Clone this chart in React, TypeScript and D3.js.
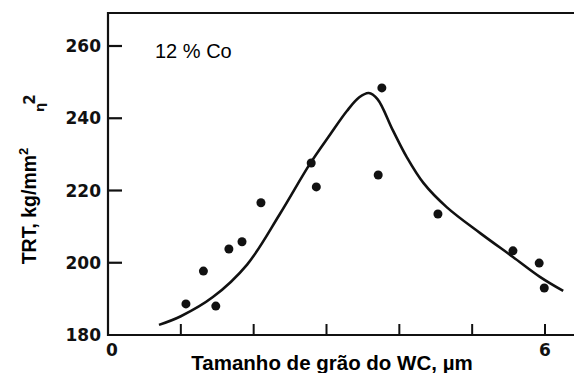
import { useEffect, useRef } from "react";
import * as d3 from "d3";

const width = 574;
const height = 373;

// measured points (grain size µm, TRT kg/mm²)
const pointX = [1.07, 1.31, 1.48, 1.66, 1.84, 2.1, 2.79, 2.86, 3.71, 3.76, 4.53, 5.56, 5.92, 5.99];
const pointY = [188.6, 197.7, 188.0, 203.8, 205.8, 216.6, 227.6, 221.0, 224.3, 248.4, 213.5, 203.3, 199.9, 193.0];

// fitted curve
const curveX = [0.7, 1.0, 1.44, 1.91, 2.36, 2.77, 3.05, 3.28, 3.45, 3.58, 3.7, 3.91, 4.1, 4.33, 4.65, 5.11, 5.56, 5.93, 6.25];
const curveY = [182.8, 185.2, 190.5, 199.5, 213.5, 227.3, 235.5, 242.0, 245.8, 247.0, 245.3, 236.7, 229.3, 222.1, 215.4, 208.2, 201.6, 196.1, 192.2];

const yTicks = [180, 200, 220, 240, 260];
const xTicks = [1, 2, 3, 4, 5, 6];
const xTickLabels = [0, 6];

const App = () => {
  const ref = useRef<SVGSVGElement>(null);

  useEffect(() => {
    const svg = d3.select(ref.current);
    svg.selectAll("*").remove();

    const x = d3.scaleLinear().domain([0, 6]).range([108, 545]);
    const y = d3.scaleLinear().domain([180, 260]).range([335, 46]);
    const xMax = x.invert(574);
    const yMax = y.invert(13);

    const ink = "#111";

    // frame: left axis, bottom axis, top line
    svg.append("path")
      .attr("d", `M${x(xMax)},${y(yMax)}H${x(0)}V${y(180)}H${x(xMax)}`)
      .attr("fill", "none")
      .attr("stroke", ink)
      .attr("stroke-width", 2.2);

    // y ticks (inward)
    svg.append("g").selectAll("line")
      .data(yTicks.filter(d => d > 180))
      .enter().append("line")
      .attr("x1", x(0)).attr("x2", x(0) + 14)
      .attr("y1", d => y(d)).attr("y2", d => y(d))
      .attr("stroke", ink).attr("stroke-width", 2.2);

    svg.append("g").selectAll("text")
      .data(yTicks)
      .enter().append("text")
      .attr("x", 101)
      .attr("y", d => y(d))
      .attr("dy", "0.36em")
      .attr("text-anchor", "end")
      .attr("font-family", "DejaVu Sans")
      .attr("font-weight", "bold")
      .attr("font-size", 17)
      .attr("fill", ink)
      .text(d => d);

    // x ticks (inward)
    svg.append("g").selectAll("line")
      .data(xTicks)
      .enter().append("line")
      .attr("x1", d => x(d)).attr("x2", d => x(d))
      .attr("y1", y(180)).attr("y2", y(180) - 11)
      .attr("stroke", ink).attr("stroke-width", 2);

    svg.append("g").selectAll("text")
      .data(xTickLabels)
      .enter().append("text")
      .attr("x", d => x(d) + (d === 0 ? 4 : 0))
      .attr("y", 356)
      .attr("text-anchor", "middle")
      .attr("font-family", "DejaVu Sans")
      .attr("font-weight", "bold")
      .attr("font-size", 17)
      .attr("fill", ink)
      .text(d => d);

    // curve
    const line = d3.line<number>()
      .x((_, i) => x(curveX[i]))
      .y(d => y(d))
      .curve(d3.curveCatmullRom.alpha(0.5));

    svg.append("path")
      .attr("d", line(curveY))
      .attr("fill", "none")
      .attr("stroke", ink)
      .attr("stroke-width", 2.6);

    // points
    svg.append("g").selectAll("circle")
      .data(pointY)
      .enter().append("circle")
      .attr("cx", (_, i) => x(pointX[i]))
      .attr("cy", d => y(d))
      .attr("r", 4.5)
      .attr("fill", ink);

    // labels
    svg.append("text")
      .attr("x", 155).attr("y", 58)
      .attr("font-family", "Liberation Sans, Arial, sans-serif")
      .attr("font-size", 20)
      .attr("fill", "#000")
      .text("12 % Co");

    svg.append("text")
      .attr("x", 332).attr("y", 370)
      .attr("text-anchor", "middle")
      .attr("font-family", "Liberation Sans, Arial, sans-serif")
      .attr("font-weight", "bold")
      .attr("font-size", 20.5)
      .attr("fill", "#000")
      .text("Tamanho de grão do WC, µm");

    const yl = svg.append("text")
      .attr("transform", "translate(36,206) rotate(-90)")
      .attr("text-anchor", "middle")
      .attr("font-family", "Liberation Sans, Arial, sans-serif")
      .attr("font-weight", "bold")
      .attr("font-size", 19.5)
      .attr("fill", "#000");
    yl.append("tspan").text("TRT, kg/mm");
    yl.append("tspan").attr("dy", -8).attr("font-size", 13).text("2");

    const eta = svg.append("text")
      .attr("transform", "translate(44,112) rotate(-90)")
      .attr("font-family", "DejaVu Sans")
      .attr("font-weight", "bold")
      .attr("font-size", 13)
      .attr("fill", ink);
    eta.append("tspan").text("η");
    eta.append("tspan").attr("dy", -9).attr("dx", -2).attr("font-size", 15).text("2");
  }, []);

  return (
    <svg
      ref={ref}
      width={width}
      height={height}
      style={{ position: "absolute", left: 0, top: 0, background: "#fff" }}
    />
  );
};

export default App;
